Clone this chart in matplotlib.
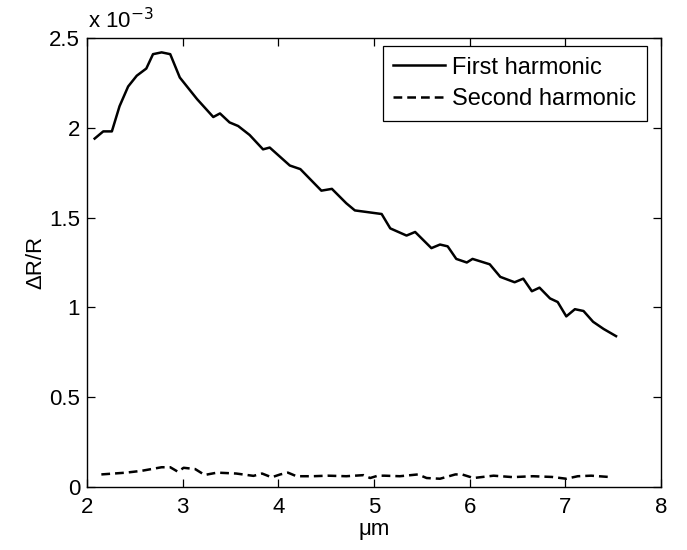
import matplotlib
matplotlib.use("Agg")
import matplotlib.pyplot as plt

plt.rcParams['font.family'] = ['Liberation Sans', 'DejaVu Sans']

# First harmonic (units of 1e-3)
x1 = [2.08, 2.17, 2.26, 2.34, 2.43, 2.52, 2.62, 2.69, 2.78, 2.87, 2.97, 3.15,
      3.32, 3.39, 3.49, 3.58, 3.70, 3.84, 3.91, 4.12, 4.23, 4.45, 4.56, 4.71,
      4.80, 4.94, 5.08, 5.17, 5.34, 5.43, 5.60, 5.69, 5.77, 5.86, 5.97, 6.03,
      6.21, 6.32, 6.47, 6.56, 6.65, 6.73, 6.84, 6.92, 7.01, 7.10, 7.19, 7.29,
      7.40, 7.53]
y1 = [1.94, 1.98, 1.98, 2.12, 2.23, 2.29, 2.33, 2.41, 2.42, 2.41, 2.28, 2.16,
      2.06, 2.08, 2.03, 2.01, 1.96, 1.88, 1.89, 1.79, 1.77, 1.65, 1.66, 1.58,
      1.54, 1.53, 1.52, 1.44, 1.40, 1.42, 1.33, 1.35, 1.34, 1.27, 1.25, 1.27,
      1.24, 1.17, 1.14, 1.16, 1.09, 1.11, 1.05, 1.03, 0.95, 0.99, 0.98, 0.92,
      0.88, 0.84]

# Second harmonic (units of 1e-3)
x2 = [2.15, 2.41, 2.57, 2.78, 2.87, 2.95, 3.01, 3.13, 3.23, 3.36, 3.56, 3.74,
      3.83, 3.93, 4.02, 4.10, 4.19, 4.36, 4.52, 4.71, 4.89, 4.96, 5.04, 5.11,
      5.27, 5.46, 5.55, 5.69, 5.85, 5.92, 6.04, 6.25, 6.45, 6.66, 6.86, 7.01,
      7.13, 7.27, 7.48]
y2 = [0.070, 0.080, 0.090, 0.110, 0.110, 0.085, 0.107, 0.100, 0.067, 0.080,
      0.075, 0.062, 0.075, 0.054, 0.070, 0.080, 0.060, 0.060, 0.063, 0.060,
      0.066, 0.050, 0.063, 0.063, 0.060, 0.070, 0.050, 0.046, 0.070, 0.070,
      0.050, 0.063, 0.055, 0.060, 0.056, 0.046, 0.060, 0.063, 0.055]

xticks = [2, 3, 4, 5, 6, 7, 8]
yticks = [0, 0.5, 1, 1.5, 2, 2.5]
ytick_labels = ['0', '0.5', '1', '1.5', '2', '2.5']

fig = plt.figure(figsize=(6.87, 5.5), dpi=100)
ax = fig.add_axes([87/687, 1-487/550, (661-87)/687, (487-38)/550])

ax.plot(x1, y1, color='black', lw=1.8, linestyle='-', label='First harmonic')
ax.plot(x2, y2, color='black', lw=1.8, linestyle=(0, (3.5, 2)), label='Second harmonic')

ax.set_xlim(2, 8)
ax.set_ylim(0, 2.5)
ax.set_xticks(xticks)
ax.set_xticklabels([str(t) for t in xticks])
ax.set_yticks(yticks)
ax.set_yticklabels(ytick_labels)
ax.tick_params(direction='in', top=True, right=True, length=6, width=0.9,
               labelsize=16)
ax.tick_params(axis='x', pad=7)
ax.tick_params(axis='y', pad=5)
for s in ax.spines.values():
    s.set_linewidth(1.0)

ax.set_xlabel('μm', fontsize=16, labelpad=1)
ax.set_ylabel('ΔR/R', fontsize=16, labelpad=2)

fig.text(88/687, 1 - 28/550, 'x 10$^{-3}$', fontsize=16,
         ha='left', va='baseline')

leg = ax.legend(loc='upper right', bbox_to_anchor=(647/687, 1-46/550),
                bbox_transform=fig.transFigure, fontsize=17, frameon=True,
                fancybox=False, edgecolor='black', framealpha=1,
                handlelength=2.2, handletextpad=0.3, borderpad=0.45,
                labelspacing=0.4, borderaxespad=0)
leg.get_frame().set_linewidth(0.9)

fig.savefig('out.png', dpi=100)
